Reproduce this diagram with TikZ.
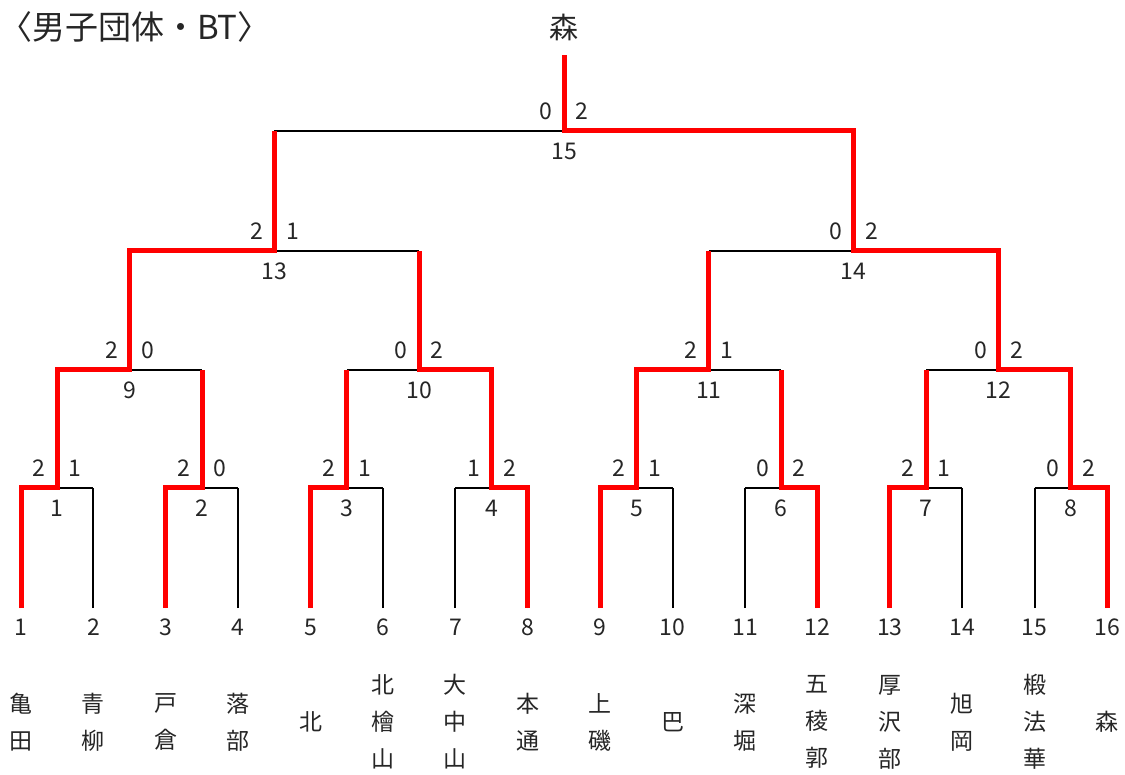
\documentclass[tikz,border=0pt]{standalone}
\usepackage{fontspec}
\setmainfont{Noto Sans CJK JP}
\definecolor{txt}{RGB}{38,38,38}
\definecolor{win}{RGB}{255,0,0}
\begin{document}
\begin{tikzpicture}[x=1pt,y=-1pt,
  lbl/.style={text=txt, inner sep=0pt, font=\fontsize{23}{23}\selectfont},
  team/.style={text=txt, inner sep=0pt, align=center, font=\fontsize{23}{37}\selectfont},
  big/.style={text=txt, inner sep=0pt, font=\fontsize{29}{29}\selectfont},
  lose/.style={draw=black, line width=2pt},
  wonpath/.style={draw=win, line width=5pt, line join=miter}]
\useasboundingbox (0,0) rectangle (1125,775);
% leaves
\foreach \i in {1,...,16}{
  \pgfmathsetmacro{\xx}{21+(\i-1)*72.4}
  \coordinate (b\i) at (\xx,608);
  \coordinate (t\i) at (\xx,488);
  \node[lbl] (n\i) at (\xx,627) {\i};
}
% level 1 matches
\foreach \j in {1,...,8}{
  \pgfmathsetmacro{\xx}{21+(2*\j-1.5)*72.4}
  \coordinate (m\j) at (\xx,488);
  \coordinate (u\j) at (\xx,370);
}
\foreach \j/\k in {9/1,10/2,11/3,12/4}{
  \pgfmathsetmacro{\xx}{21+(4*\k-2.5)*72.4}
  \coordinate (m\j) at (\xx,370);
  \coordinate (u\j) at (\xx,251);
}
\foreach \j/\k in {13/1,14/2}{
  \pgfmathsetmacro{\xx}{21+(8*\k-4.5)*72.4}
  \coordinate (m\j) at (\xx,251);
  \coordinate (u\j) at (\xx,131);
}
\coordinate (m15) at (564,131);
\coordinate (u15) at (564,55);
% black lines
\foreach \i in {1,...,16}{ \draw[lose] (b\i) -- (t\i); }
\foreach \j in {1,...,8}{
  \pgfmathtruncatemacro{\a}{2*\j-1}
  \pgfmathtruncatemacro{\b}{2*\j}
  \draw[lose] (t\a) -- (m\j) -- (t\b);
}
\draw[lose] (u1) -- (m9) -- (u2);
\draw[lose] (u3) -- (m10) -- (u4);
\draw[lose] (u5) -- (m11) -- (u6);
\draw[lose] (u7) -- (m12) -- (u8);
\draw[lose] (u9) -- (m13) -- (u10);
\draw[lose] (u11) -- (m14) -- (u12);
\draw[lose] (u13) -- (m15) -- (u14);
% red winning paths
\draw[wonpath] (b16) -- (t16) -- (m8) -- (u8) -- (m12) -- (u12) -- (m14) -- (u14) -- (m15) -- (u15);
\draw[wonpath] (b1) -- (t1) -- (m1) -- (u1) -- (m9) -- (u9) -- (m13) -- (u13);
\draw[wonpath] (b3) -- (t3) -- (m2) -- (u2);
\draw[wonpath] (b5) -- (t5) -- (m3) -- (u3);
\draw[wonpath] (b8) -- (t8) -- (m4) -- (u4) -- (m10) -- (u10);
\draw[wonpath] (b9) -- (t9) -- (m5) -- (u5) -- (m11) -- (u11);
\draw[wonpath] (b12) -- (t12) -- (m6) -- (u6);
\draw[wonpath] (b13) -- (t13) -- (m7) -- (u7);
% scores and match numbers
\foreach \j/\l/\r in {1/2/1,2/2/0,3/2/1,4/1/2,5/2/1,6/0/2,7/2/1,8/0/2,9/2/0,10/0/2,11/2/1,12/0/2,13/2/1,14/0/2,15/0/2}{
  \node[lbl] (sl\j) at ([xshift=-18pt,yshift=20pt]m\j) {\l};
  \node[lbl] (sr\j) at ([xshift=18pt,yshift=20pt]m\j) {\r};
  \node[lbl] (mn\j) at ([yshift=-20pt]m\j) {\j};
}
% teams
\foreach \i/\t in {1/{亀\\田},2/{青\\柳},3/{戸\\倉},4/{落\\部},5/{北},6/{北\\檜\\山},7/{大\\中\\山},8/{本\\通},9/{上\\磯},10/{巴},11/{深\\堀},12/{五\\稜\\郭},13/{厚\\沢\\部},14/{旭\\岡},15/{椴\\法\\華},16/{森}}{
  \pgfmathsetmacro{\xx}{21+(\i-1)*72.4}
  \node[team] (tm\i) at (\xx,722) {\t};
}
\node[big, anchor=west, font=\fontsize{33}{33}\selectfont] (title) at (-1,27) {〈男子団体・BT〉};
\node[big] (champ) at (564,27) {森};
\end{tikzpicture}
\end{document}
